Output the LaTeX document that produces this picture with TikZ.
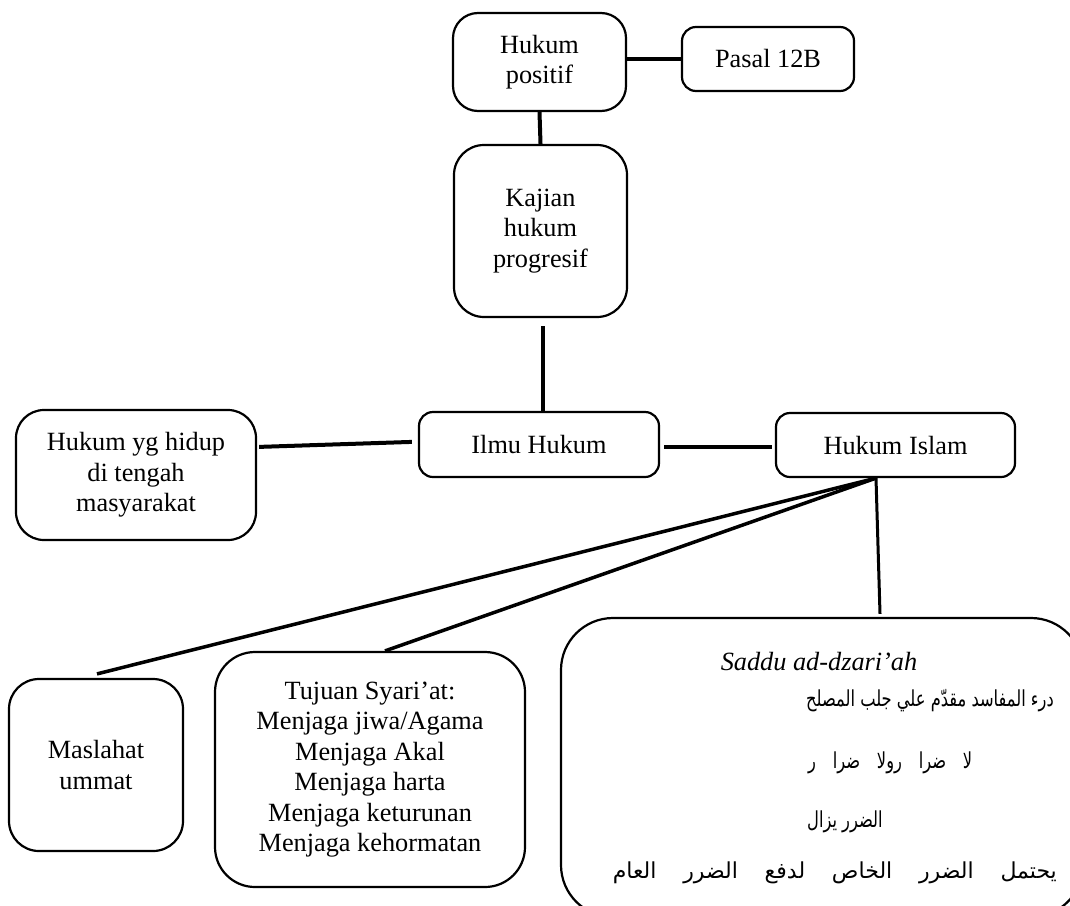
\documentclass[tikz,border=0pt]{standalone}
\usepackage{fontspec}
\setmainfont{Liberation Serif}
\newfontfamily\arabicfont[Script=Arabic,FakeStretch=0.74]{DejaVu Sans}
\newfontfamily\arabicwide[Script=Arabic]{DejaVu Sans}
\TeXXeTstate=1
\usetikzlibrary{calc}
\tikzset{
  box/.style={draw, line width=2.2pt, rounded corners=#1, inner sep=0pt, align=center,
    font=\fontsize{26.3}{30.5}\selectfont},
  conn/.style={line width=4pt},
  diag/.style={line width=3.5pt},
  artext/.style={inner sep=0pt, font=\arabicfont\fontsize{22}{26}\selectfont},
  artextw/.style={inner sep=0pt, font=\arabicwide\fontsize{22}{26}\selectfont},
}
\begin{document}
\begin{tikzpicture}[x=1pt,y=-1pt]
\useasboundingbox (0,0) rectangle (1070,905);
\clip (0,0) rectangle (1070,905);
\node[box=25, minimum width=173, minimum height=98] (hp) at (539.5,62) {Hukum\\positif};
\node[box=14, minimum width=172, minimum height=64] (pasal) at (768,59) {Pasal 12B};
\node[box=30, minimum width=173, minimum height=172] (kaj) at (540.5,231) {Kajian\\hukum\\progresif};
\node[box=28, minimum width=240, minimum height=130] (hyg) at (136,475) {Hukum yg hidup\\di tengah\\masyarakat};
\node[box=14, minimum width=240, minimum height=65] (ilmu) at (539,444.5) {Ilmu Hukum};
\node[box=14, minimum width=239, minimum height=64] (islam) at (895.5,445) {Hukum Islam};
\node[box=30, minimum width=174, minimum height=172] (masl) at (96,765) {Maslahat\\ummat};
\node[box=40, minimum width=310, minimum height=235] (tuj) at (370,769.5) {Tujuan Syari’at:\\Menjaga jiwa/Agama\\Menjaga Akal\\Menjaga harta\\Menjaga keturunan\\Menjaga kehormatan};
\node[box=52, minimum width=522, minimum height=299] (saddu) at (822,767.5) {};
\node[inner sep=0pt, font=\fontsize{26.3}{30.5}\selectfont\itshape] (stitle) at (819,662) {Saddu ad-dzari’ah};
\node[artext, anchor=west] (ar1) at (806,701) {\beginR درء المفاسد مقدّم علي جلب المصلح\endR};
\node[artext, anchor=west] (ar2) at (808,763) {\hbox to 164pt{\beginR لا\hfil\ ضرا\hfil\ رولا\hfil\ ضرا\hfil\ ر\endR}};
\node[artext, anchor=west] (ar3) at (807,822) {\beginR الضرر يزال\endR};
\node[artextw, anchor=east] (ar4) at (1057,873) {\hbox to 444pt{\beginR يحتمل\hfil\ الضرر\hfil\ الخاص\hfil\ لدفع\hfil\ الضرر\hfil\ العام\endR}};
% connectors
\draw[conn] (hp.east |- pasal.west) -- (pasal.west);
\draw[conn] (hp.south) -- (kaj.north);
\coordinate (kb) at ($(kaj.south)+(2.5,8)$);
\draw[conn] (kb) -- (kb |- ilmu.north);
\draw[conn] ($(hyg.north east)+(2,38)$) -- ($(ilmu.north west)+(-6,31)$);
\draw[conn] ($(ilmu.east)+(4,2.5)$) -- ($(islam.west)+(-3,2)$);
\coordinate (hib) at ($(islam.south)+(-19.5,0)$);
\draw[diag] (hib) -- ($(masl.north)+(1,-4)$);
\draw[diag] (hib) -- ($(tuj.north)+(15,0)$);
\draw[line width=3pt] (hib) -- ($(saddu.north)+(58,-3)$);
\end{tikzpicture}
\end{document}
